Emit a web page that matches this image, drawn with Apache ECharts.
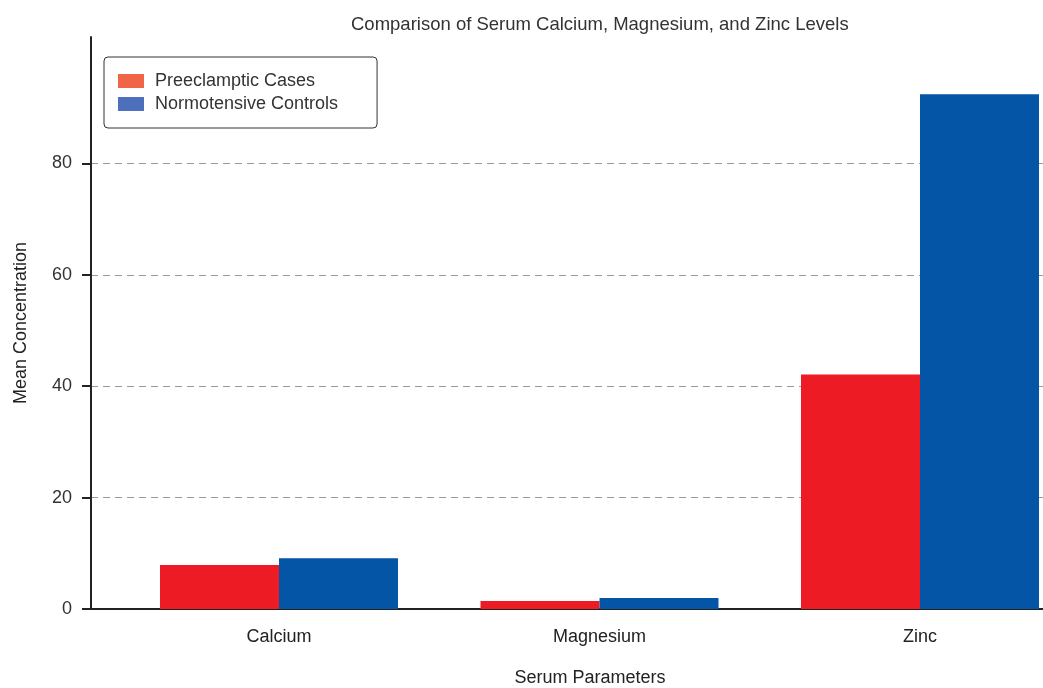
<!DOCTYPE html>
<html>
<head>
<meta charset="utf-8">
<script src="https://cdn.jsdelivr.net/npm/echarts@6/dist/echarts.min.js"></script>
<style>
  html, body { margin: 0; padding: 0; background: #fff; }
  #chart { width: 1043px; height: 688px; }
</style>
</head>
<body>
<div id="chart"></div>
<script>
const categories = ['Calcium', 'Magnesium', 'Zinc'];
const seriesNames = ['Preeclamptic Cases', 'Normotensive Controls'];
const preeclampticValues = [7.9, 1.43, 42.1];
const normotensiveValues = [9.1, 1.97, 92.4];
const yTicks = [0, 20, 40, 60, 80];

const barColors = ['#ed1c24', '#0455a5'];
const legendColors = ['#f06548', '#4e6fbb'];
const fontFamily = '"Liberation Sans", Arial, sans-serif';

const chart = echarts.init(document.getElementById('chart'));

const toPoints = (values) => values.map((v, i) => [i, v]);

const option = {
  animation: false,
  backgroundColor: '#fff',
  textStyle: { fontFamily },
  title: {
    text: 'Comparison of Serum Calcium, Magnesium, and Zinc Levels',
    left: 346,
    top: 10,
    textStyle: { fontSize: 18.5, fontWeight: 'normal', color: '#333', fontFamily }
  },
  legend: {
    orient: 'vertical',
    left: 104,
    top: 57,
    padding: [14, 39, 14, 14],
    itemGap: 3,
    itemWidth: 26,
    itemHeight: 14,
    borderColor: '#333',
    borderWidth: 1,
    borderRadius: 4,
    backgroundColor: '#fff',
    icon: 'rect',
    textStyle: { fontSize: 18, color: '#333', lineHeight: 20, padding: [0, 0, 0, 6], fontFamily },
    data: seriesNames.map((name, i) => ({ name, itemStyle: { color: legendColors[i] } }))
  },
  grid: { left: 91, right: 0, top: 37, bottom: 79, outerBoundsMode: 'none' },
  xAxis: {
    type: 'value',
    min: -0.5866,
    max: 2.3838,
    name: 'Serum Parameters',
    nameLocation: 'middle',
    nameGap: 60,
    nameTextStyle: { fontSize: 18, color: '#222', padding: [0, 0, 0, 46], fontFamily },
    axisLine: { show: true, lineStyle: { color: '#222', width: 2 } },
    axisTick: { show: false },
    splitLine: { show: false },
    axisLabel: {
      customValues: [0, 1, 2],
      formatter: (v) => categories[Math.round(v)],
      fontSize: 18,
      color: '#222',
      margin: 19
    }
  },
  yAxis: {
    type: 'value',
    min: 0,
    max: 102.7,
    name: 'Mean Concentration',
    nameLocation: 'middle',
    nameGap: 61,
    nameTextStyle: { fontSize: 18, color: '#222', fontFamily },
    axisLine: { show: true, onZero: false, lineStyle: { color: '#222', width: 2 } },
    axisTick: { show: true, length: 9, customValues: yTicks, lineStyle: { color: '#222', width: 2 } },
    axisLabel: { customValues: yTicks, fontSize: 18, color: '#333', margin: 19 },
    splitLine: {
      show: true,
      lineStyle: { color: '#999', width: 1, type: [7, 5] }
    }
  },
  series: [
    {
      name: seriesNames[0],
      type: 'bar',
      barWidth: 119,
      barGap: '0%',
      itemStyle: { color: barColors[0] },
      data: toPoints(preeclampticValues)
    },
    {
      name: seriesNames[1],
      type: 'bar',
      barWidth: 119,
      barGap: '0%',
      itemStyle: { color: barColors[1] },
      data: toPoints(normotensiveValues)
    }
  ]
};

chart.setOption(option);
</script>
</body>
</html>
